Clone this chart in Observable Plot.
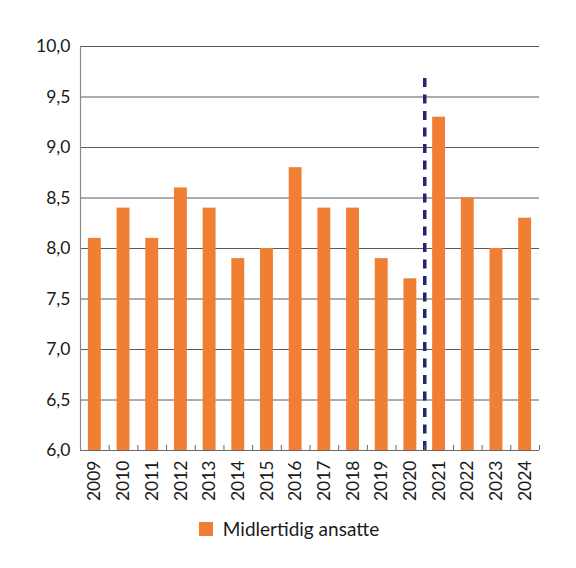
<!DOCTYPE html>
<html>
<head>
<meta charset="utf-8">
<script src="https://cdn.jsdelivr.net/npm/d3@7"></script>
<script src="https://cdn.jsdelivr.net/npm/@observablehq/plot@0.6"></script>
<style>
  body { margin: 0; background: #fff; font-family: Lato, "Open Sans", sans-serif; }
  #legend { display: flex; justify-content: center; align-items: center; margin-top: 12px; font-size: 19px; color: #1a1a1a; padding-left: 2px; }
  #legend .sw { width: 14px; height: 14px; background: #f07f34; margin-right: 10px; }
</style>
</head>
<body>
<div id="chart"></div>
<div id="legend"><span class="sw"></span><span>Midlertidig ansatte</span></div>
<script>
const years = ["2009","2010","2011","2012","2013","2014","2015","2016","2017","2018","2019","2020","2021","2022","2023","2024"];
const values = [8.1, 8.4, 8.1, 8.6, 8.4, 7.9, 8.0, 8.8, 8.4, 8.4, 7.9, 7.7, 9.3, 8.5, 8.0, 8.3];
const yTicks = [6.0, 6.5, 7.0, 7.5, 8.0, 8.5, 9.0, 9.5, 10.0];
const breakAfter = "2020";
const breakTop = 9.74;
const seriesName = "Midlertidig ansatte";

const data = years.map((y, i) => ({year: y, value: values[i]}));

const width = 576, marginLeft = 80, marginRight = 37;
const step = (width - marginLeft - marginRight) / years.length;

const chart = Plot.plot({
  width,
  height: 505,
  marginTop: 46,
  marginLeft,
  marginRight,
  marginBottom: 55,
  style: {fontFamily: "Lato, 'Open Sans', sans-serif", fontSize: "17.5px", color: "#1a1a1a"},
  x: {domain: years, paddingInner: 0.55, paddingOuter: 0.275, round: false, label: null},
  y: {domain: [6, 10], label: null},
  marks: [
    Plot.ruleY(yTicks.filter(d => d > 6), {stroke: "#5a5a5a", strokeWidth: 1, strokeOpacity: 1}),
    Plot.barY(data, {x: "year", y1: () => 6, y2: "value", fill: "#f07f34"}),
    Plot.ruleX([breakAfter], {dx: step / 2, y1: 6, y2: breakTop, stroke: "#28236e", strokeWidth: 3.5, strokeDasharray: "9,7.5"}),
    Plot.ruleX(years, {dx: -step / 2, y1: 6, y2: 6.05, stroke: "#6a6a6a"}),
    Plot.ruleX([years[years.length - 1]], {dx: step / 2, y1: 6, y2: 6.05, stroke: "#6a6a6a"}),
    Plot.ruleY([6], {stroke: "#6a6a6a", strokeWidth: 1.2}),
    Plot.ruleX([years[0]], {dx: -step / 2, y1: 6, y2: 10, stroke: "#8a8a8a", strokeWidth: 1.2}),
    Plot.axisY({ticks: yTicks, tickSize: 0, tickPadding: 10, tickFormat: d => d.toFixed(1).replace(".", ","), fontSize: 17.5}),
    Plot.axisX({tickSize: 0, tickPadding: 10, tickRotate: -90, fontSize: 17.5})
  ]
});
document.getElementById("chart").appendChild(chart);
</script>
</body>
</html>
